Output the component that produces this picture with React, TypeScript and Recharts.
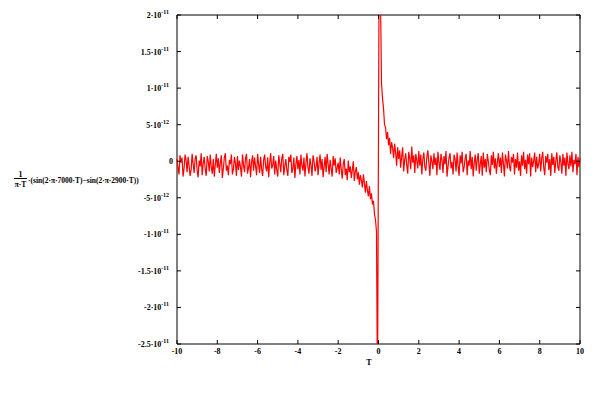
import { LineChart, Line, XAxis, YAxis, ReferenceArea } from 'recharts'

// sampled every 0.05 in T, values in units of 1e-12
// T = -10 .. -0.05
const leftVals = [
  0.3, -0.9, -1.8, 0.8, -0.2, 0.5, -2.1, -1.0, 0.9, 0.2, -1.5, 0.6, -0.6, -2.0, -1.2, 1.0, -0.4, -1.6, 0.4, 0.8,
  -1.3, -2.2, 0.1, -0.7, 1.1, -1.9, -0.3, 0.6, -1.1, -2.0, 0.7, 0.0, -1.4, 0.9, -0.8, -1.7, 0.3, -2.1, -0.5, 1.0,
  -0.9, 0.4, -1.6, -0.2, 0.8, -2.3, -1.0, 0.5, 1.1, -1.3, -0.6, -1.9, 0.2, -0.4, 0.9, -1.8, -1.1, 0.6, -0.3, -2.0,
  0.7, -1.2, 0.1, -0.8, -2.1, 0.9, -0.5, -1.5, 0.4, 1.0, -1.7, -0.9, 0.3, -2.2, -0.1, 0.8, -1.3, 0.5, -0.7, -1.9,
  1.0, -0.4, -1.6, 0.6, -1.1, -2.0, 0.2, 0.9, -0.8, -1.4, 0.5, -2.2, -0.2, 1.1, -1.0, -0.5, 0.7, -1.8, 0.1, -1.2,
  -2.1, 0.8, -0.3, -1.5, 0.4, 1.0, -1.9, -0.7, 0.3, -1.2, -2.0, 0.6, -0.1, 0.9, -1.6, -1.0, 0.5, -2.3, -0.4, 0.7,
  -1.1, 0.2, -1.8, 0.9, -0.6, -1.3, 0.5, -2.1, -0.2, 1.1, -0.9, -1.7, 0.4, -0.5, -2.0, 0.8, 0.1, -1.4, -0.8, 0.6,
  -1.9, -0.3, 0.9, -1.2, 0.3, -2.2, -0.7, 0.6, -1.5, 1.0, -0.4, -1.8, 0.2, -1.0, -2.1, 0.7, -0.6, 0.4, -1.6, -0.9,
  -0.2, -1.8, 0.5, -1.1, -2.4, -0.4, 0.3, -1.9, -1.0, -2.6, 0.1, -1.5, -0.7, -2.3, -1.2, 0.0, -2.7, -1.4, -0.8, -2.5,
  -1.5, -3.2, -1.9, -2.6, -3.6, -1.8, -3.0, -4.3, -2.7, -4.0, -4.8, -3.4, -5.2, -4.4, -5.9, -5.4, -7.2, -8.0, -9.6, -32,
]
// T = 0.05 .. 10
const rightVals = [
  40, 22, 10.6, 8.6, 7.2, 5.0, 4.6, 3.0, 4.0, 2.2, 3.2, 1.0, 2.6, 1.8, 0.4, 2.4, 1.2, -0.6, 1.9, 0.3,
  1.5, -0.9, 0.7, 1.9, -1.4, 0.2, 1.1, -0.5, -1.7, 1.3, 0.4, -1.1, 2.0, -0.2, 0.8, -1.6, 1.0, 0.1, -1.0, 1.4,
  -0.6, 0.9, -1.8, 0.3, 1.2, -0.8, -1.3, 0.6, 1.5, -0.3, -2.0, 0.8, 0.0, -1.1, 1.1, -0.5, 0.5, -1.9, 1.3, -0.2,
  -1.2, 1.0, 0.2, -1.6, 0.7, -0.4, 1.4, -2.1, -0.7, 0.5, 1.1, -1.0, -0.1, -1.8, 0.9, 0.3, -1.4, 1.2, -0.6, -2.0,
  0.8, -0.3, 1.3, -1.5, -0.8, 0.4, 1.0, -1.9, 0.1, -0.6, 1.4, -1.1, 0.6, -2.1, -0.2, 0.9, -1.3, 0.2, 1.1, -1.7,
  -0.4, 0.7, -2.0, 1.2, -0.9, 0.3, -1.5, 1.0, 0.0, -1.2, -1.9, 0.8, -0.5, 1.3, -1.0, 0.4, -1.7, -0.1, 1.1, -0.8,
  0.5, -1.6, 1.2, -0.3, -2.1, 0.9, 0.1, -1.0, 1.4, -0.7, -1.4, 0.6, -0.2, 1.0, -1.8, 0.3, -0.9, 1.2, -1.3, 0.0,
  -2.0, 0.8, -0.6, 1.3, -1.1, 0.2, -1.7, 0.9, -0.4, 1.1, -2.1, 0.5, -0.8, 0.0, 1.2, -1.5, 0.6, -1.0, -0.3, 1.0,
  -1.4, 0.4, 1.3, -0.9, -1.9, 0.7, -0.2, 1.0, -1.2, 0.3, -2.0, 1.1, -0.5, 0.6, -1.6, 0.1, 1.2, -0.8, -1.3, 0.8,
  -0.1, -1.7, 1.0, -0.6, 0.5, -2.0, 1.2, -0.3, -1.1, 0.8, -0.7, 1.3, -1.5, 0.2, -0.4, 1.0, -1.9, 0.6, -0.8, 0.4,
]

const xTicks = [-10, -8, -6, -4, -2, 0, 2, 4, 6, 8, 10]
const xTickLabels = ['-10', '-8', '-6', '-4', '-2', '0', '2', '4', '6', '8', '10']
const yTicks = [-25, -20, -15, -10, -5, 0, 5, 10, 15, 20]
const yTickMant = ['-2.5', '-2', '-1.5', '-1', '-5', '0', '5', '1', '1.5', '2']
const yTickExp = ['-11', '-11', '-11', '-11', '-12', '', '-12', '-11', '-11', '-11']

const data = [
  ...leftVals.map((v, i) => ({ T: +(-10 + i * 0.05).toFixed(2), v })),
  ...rightVals.map((v, i) => ({ T: +(0.05 + i * 0.05).toFixed(2), v })),
]

const LEFT = 177
const RIGHT = 580
const TOP = 15
const BOTTOM = 344
const font = { fontFamily: 'Liberation Serif', fontSize: 8, fontWeight: 'bold' as const, fill: '#000' }

function XTick({ x, payload }: any) {
  const i = xTicks.indexOf(payload.value)
  return (
    <g>
      <line x1={x} x2={x} y1={BOTTOM} y2={BOTTOM - 4} stroke="#000" />
      <line x1={x} x2={x} y1={TOP} y2={TOP + 4} stroke="#000" />
      <text x={x} y={BOTTOM + 10} textAnchor="middle" {...font}>{xTickLabels[i]}</text>
    </g>
  )
}

function YTick({ y, payload }: any) {
  const i = yTicks.indexOf(payload.value)
  const exp = yTickExp[i]
  return (
    <g>
      <line x1={LEFT} x2={LEFT + 4} y1={y} y2={y} stroke="#000" />
      <line x1={RIGHT} x2={RIGHT - 4} y1={y} y2={y} stroke="#000" />
      <text x={exp ? LEFT - 8 : LEFT - 4} y={y + 3} textAnchor="end" {...font}>
        {exp ? `${yTickMant[i]}·10` : yTickMant[i]}
        {exp && <tspan dy={-4} fontSize={6}>{exp}</tspan>}
      </text>
    </g>
  )
}

export default function App() {
  return (
    <div style={{ position: 'absolute', left: 0, top: 0, width: 608, height: 406, background: '#fff' }}>
      <LineChart width={608} height={406} data={data} margin={{ top: TOP, right: 608 - RIGHT, bottom: 0, left: 0 }}>
        <XAxis dataKey="T" type="number" domain={[-10, 10]} ticks={xTicks} tick={<XTick />}
          tickLine={false} axisLine={false} height={406 - BOTTOM} interval={0} />
        <YAxis type="number" domain={[-25, 20]} ticks={yTicks} tick={<YTick />} allowDataOverflow
          tickLine={false} axisLine={false} width={LEFT} interval={0} />
        <ReferenceArea x1={-10} x2={10} y1={-25} y2={20} fill="none" stroke="#000" strokeWidth={1} ifOverflow="visible" />
        <Line dataKey="v" type="linear" stroke="#ff0000" strokeWidth={1.2} dot={false} isAnimationActive={false} />
      </LineChart>
      <svg width={608} height={406} style={{ position: 'absolute', left: 0, top: 0, pointerEvents: 'none' }}>
        <text x={20.5} y={177} textAnchor="middle" {...font}>1</text>
        <line x1={14} x2={27} y1={178.5} y2={178.5} stroke="#000" />
        <text x={20.5} y={186.5} textAnchor="middle" {...font} fontSize={7.5}>π·T</text>
        <text x={28} y={183} {...font} fontSize={7.5}>·(sin(2·π·7000·T)−sin(2·π·2900·T))</text>
        <text x={369} y={365} textAnchor="middle" {...font}>T</text>
      </svg>
    </div>
  )
}
